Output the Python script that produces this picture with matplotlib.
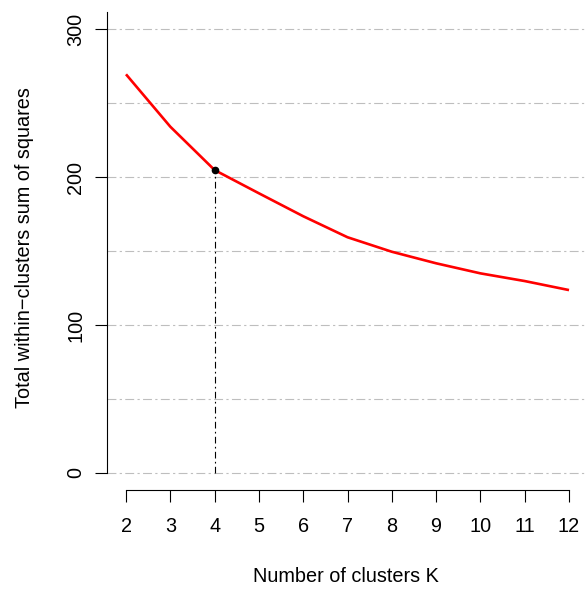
import matplotlib
matplotlib.use("Agg")
import matplotlib.pyplot as plt

k_values = [2, 3, 4, 5, 6, 7, 8, 9, 10, 11, 12]
wss = [269.4, 234.0, 204.7, 189.0, 173.5, 159.3, 149.5, 141.7, 134.9, 129.7, 123.6]
optimal_k = 4
y_ticks = [0, 100, 200, 300]
grid_levels = [0, 50, 100, 150, 200, 250, 300]

plt.rcParams['font.family'] = ['Liberation Sans', 'DejaVu Sans']
FS = 14.3

fig = plt.figure(figsize=(5.87, 5.89), dpi=100)
ax = fig.add_axes([107/587, 1 - 473/589, 480/587, (473 - 12)/589])
ax.set_xlim(1.571, 12.406)
ax.set_ylim(0, 311.5)

for g in grid_levels:
    ax.axhline(g, color='#bebebe', lw=0.8, ls=(0, (8, 3, 2, 3)), zorder=1, clip_on=False)

ax.plot(k_values, wss, color='#ff0000', lw=1.9, zorder=3, solid_capstyle='butt')
opt_val = wss[k_values.index(optimal_k)]
ax.plot([optimal_k, optimal_k], [0, opt_val], color='black', lw=0.8,
        ls=(0, (6, 3, 1.5, 3)), zorder=2, clip_on=False)
ax.plot([optimal_k], [opt_val], 'o', color='black', ms=4.5, zorder=4)

for s in ['top', 'right']:
    ax.spines[s].set_visible(False)
ax.spines['left'].set_linewidth(0.8)
ax.spines['bottom'].set_linewidth(0.8)
ax.spines['bottom'].set_position(('outward', 12.2))
ax.spines['bottom'].set_bounds(2, 12)

ax.set_xticks(k_values)
ax.set_xticklabels([str(k) for k in k_values])
ax.set_yticks(y_ticks)
ax.set_yticklabels([str(v) for v in y_ticks], rotation=90, va='center')
ax.tick_params(axis='both', length=8.6, width=0.8, labelsize=FS, color='black')
ax.tick_params(axis='x', pad=11)
ax.tick_params(axis='y', pad=7)

fig.text(25/587, 1 - 248/589, 'Total within\u2212clusters sum of squares', rotation=90,
         ha='center', va='center', fontsize=FS)
fig.text(346/587, 1 - 577/589, 'Number of clusters K', ha='center', va='center', fontsize=FS)

fig.savefig('out.png', dpi=100)
